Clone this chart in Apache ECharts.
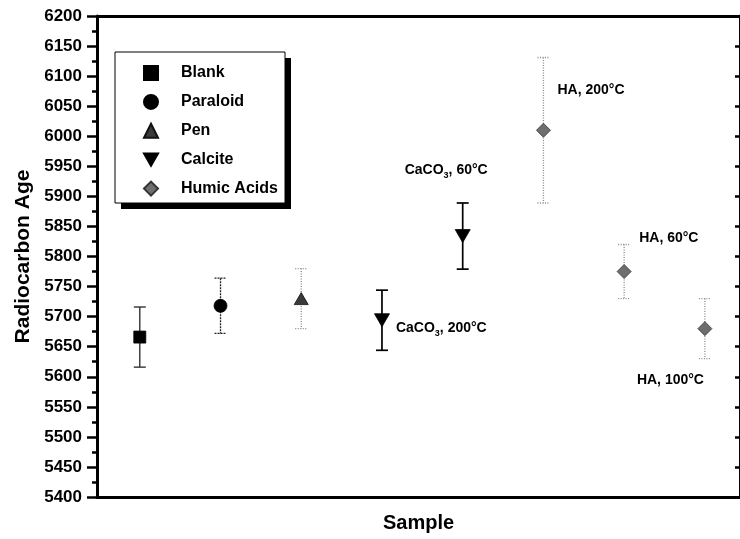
<!DOCTYPE html>
<html>
<head>
<meta charset="utf-8">
<script src="https://cdn.jsdelivr.net/npm/echarts@6/dist/echarts.min.js"></script>
<style>
html,body{margin:0;padding:0;background:#fff;}
#chart{width:740px;height:539px;}
</style>
</head>
<body>
<div id="chart"></div>
<script>
// ---- data ----
const groupNames = ['Blank', 'Paraloid', 'Pen', 'Calcite', 'Humic Acids'];
const sampleX = [1, 2, 3, 4, 5, 6, 7, 8];
const sampleGroup = ['Blank', 'Paraloid', 'Pen', 'Calcite', 'Calcite', 'Humic Acids', 'Humic Acids', 'Humic Acids'];
const sampleAge = [5666, 5718, 5730, 5694, 5834, 6010, 5775, 5680];
const sampleErr = [50, 46, 50, 50, 55, 121, 45, 50];
const sampleNote = ['', '', '', 'CaCO3, 200°C', 'CaCO3, 60°C', 'HA, 200°C', 'HA, 60°C', 'HA, 100°C'];
const yTicks = { min: 5400, max: 6200, step: 50 };

// ---- styles ----
const FONT = '"Liberation Sans", Arial, Helvetica, sans-serif';
const DOWN_TRI = 'path://M0,0 L10,0 L5,8.7 Z';
const markerStyle = {
  'Blank': { symbol: 'rect', size: [12, 12], color: '#000', border: '#000' },
  'Paraloid': { symbol: 'circle', size: 13, color: '#000', border: '#000' },
  'Pen': { symbol: 'triangle', size: [14, 12], color: '#3a3a3a', border: '#111' },
  'Calcite': { symbol: DOWN_TRI, size: [15, 13], color: '#000', border: '#000' },
  'Humic Acids': { symbol: 'diamond', size: 14, color: '#6e6e6e', border: '#333' }
};
const barStyle = {
  'Blank': { stroke: '#333', width: 1.4, dash: null },
  'Paraloid': { stroke: '#222', width: 1.3, dash: [2, 1] },
  'Pen': { stroke: '#888', width: 1.3, dash: [1, 1.5] },
  'Calcite': { stroke: '#000', width: 1.7, dash: null },
  'Humic Acids': { stroke: '#8a8a8a', width: 1.3, dash: [1, 1.5] }
};
const noteOffset = {
  3: [14, 8],
  4: [-58, -66],
  5: [14, -40],
  6: [15, -33],
  7: [-68, 51]
};

function noteFormatter(p) {
  const t = p.data.note || '';
  if (!t) return '';
  if (t.indexOf('CaCO3') === 0) {
    return '{a|CaCO}{s|3}{a|' + t.slice(5) + '}';
  }
  return '{a|' + t + '}';
}

const series = [];
groupNames.forEach(function (g) {
  const idx = [];
  sampleGroup.forEach(function (sg, i) { if (sg === g) idx.push(i); });
  const bs = barStyle[g];
  series.push({
    name: g + ' error',
    type: 'custom',
    z: 2,
    silent: true,
    data: idx.map(function (i) { return [sampleX[i], sampleAge[i], sampleErr[i]]; }),
    renderItem: function (params, api) {
      const x = api.value(0), y = api.value(1), e = api.value(2);
      const top = api.coord([x, y + e]);
      const bot = api.coord([x, y - e]);
      const hw = 6;
      const st = { stroke: bs.stroke, lineWidth: bs.width, lineDash: bs.dash };
      return {
        type: 'group',
        children: [
          { type: 'line', shape: { x1: top[0], y1: top[1], x2: bot[0], y2: bot[1] }, style: st },
          { type: 'line', shape: { x1: top[0] - hw, y1: top[1], x2: top[0] + hw, y2: top[1] }, style: st },
          { type: 'line', shape: { x1: bot[0] - hw, y1: bot[1], x2: bot[0] + hw, y2: bot[1] }, style: st }
        ]
      };
    }
  });
  const ms = markerStyle[g];
  series.push({
    name: g,
    type: 'scatter',
    z: 5,
    symbol: ms.symbol,
    symbolSize: ms.size,
    itemStyle: { color: ms.color, borderColor: ms.border, borderWidth: 0.8, opacity: 1 },
    data: idx.map(function (i) {
      const off = noteOffset[i] || [0, 0];
      return {
        value: [sampleX[i], sampleAge[i]],
        note: sampleNote[i],
        label: {
          show: !!sampleNote[i],
          position: 'inside',
          align: 'left',
          verticalAlign: 'middle',
          offset: off,
          formatter: noteFormatter,
          rich: {
            a: { fontFamily: FONT, fontWeight: 'bold', fontSize: 14, color: '#000', lineHeight: 20, verticalAlign: 'middle' },
            s: { fontFamily: FONT, fontWeight: 'bold', fontSize: 9, color: '#000', lineHeight: 20, verticalAlign: 'bottom' }
          }
        }
      };
    }),
    emphasis: { disabled: true }
  });
});

const chart = echarts.init(document.getElementById('chart'), null, { renderer: 'canvas' });
const xMin = 0.47, xMax = 8.435;
chart.setOption({
  animation: false,
  backgroundColor: '#fff',
  grid: { left: 97, right: -2, top: 16, bottom: 42, containLabel: false },
  graphic: [
    { type: 'rect', z: 10, shape: { x: 121, y: 58, width: 170, height: 151 }, style: { fill: '#000' } },
    { type: 'rect', z: 11, shape: { x: 115, y: 52, width: 170, height: 151 }, style: { fill: '#fff', stroke: '#000', lineWidth: 1 } }
  ],
  legend: {
    z: 20,
    data: groupNames.map(function (g) {
      return { name: g, icon: markerStyle[g].symbol };
    }),
    orient: 'vertical',
    left: 143,
    top: 65,
    itemWidth: 14,
    itemHeight: 14,
    itemGap: 12.9,
    padding: 0,
    selectedMode: false,
    textStyle: { fontFamily: FONT, fontWeight: 'bold', fontSize: 16, lineHeight: 14, color: '#000', padding: [0, 0, 0, 18] }
  },
  xAxis: [
    {
      type: 'value', min: xMin, max: xMax, position: 'bottom',
      axisLine: { show: true, onZero: false, lineStyle: { color: '#000', width: 3 } },
      axisTick: { show: false }, axisLabel: { show: false }, splitLine: { show: false },
      name: 'Sample', nameLocation: 'middle', nameGap: 16,
      nameTextStyle: { fontFamily: FONT, fontWeight: 'bold', fontSize: 20, color: '#000', verticalAlign: 'top' }
    },
    {
      type: 'value', min: xMin, max: xMax, position: 'top',
      axisLine: { show: true, onZero: false, lineStyle: { color: '#000', width: 3 } },
      axisTick: { show: false }, axisLabel: { show: false }, splitLine: { show: false }
    }
  ],
  yAxis: [
    {
      type: 'value', min: yTicks.min, max: yTicks.max, interval: yTicks.step, position: 'left',
      axisLine: { show: true, onZero: false, lineStyle: { color: '#000', width: 3 } },
      axisTick: { show: true, inside: false, length: 10, lineStyle: { color: '#000', width: 2.5 } },
      minorTick: { show: true, splitNumber: 2, length: 5, lineStyle: { color: '#000', width: 2.5 } },
      axisLabel: {
        margin: 15, fontFamily: FONT, fontWeight: 'bold', fontSize: 17, color: '#000',
        formatter: function (v) { return String(v); }
      },
      splitLine: { show: false },
      name: 'Radiocarbon Age', nameLocation: 'middle', nameGap: 63,
      nameTextStyle: { fontFamily: FONT, fontWeight: 'bold', fontSize: 21, color: '#000' }
    },
    {
      type: 'value', min: yTicks.min, max: yTicks.max, interval: yTicks.step, position: 'right',
      axisLine: { show: true, onZero: false, lineStyle: { color: '#000', width: 3 } },
      axisTick: { show: true, inside: true, length: 5, lineStyle: { color: '#000', width: 2.5 } },
      axisLabel: { show: false }, splitLine: { show: false }
    }
  ],
  series: series
});
</script>
</body>
</html>
